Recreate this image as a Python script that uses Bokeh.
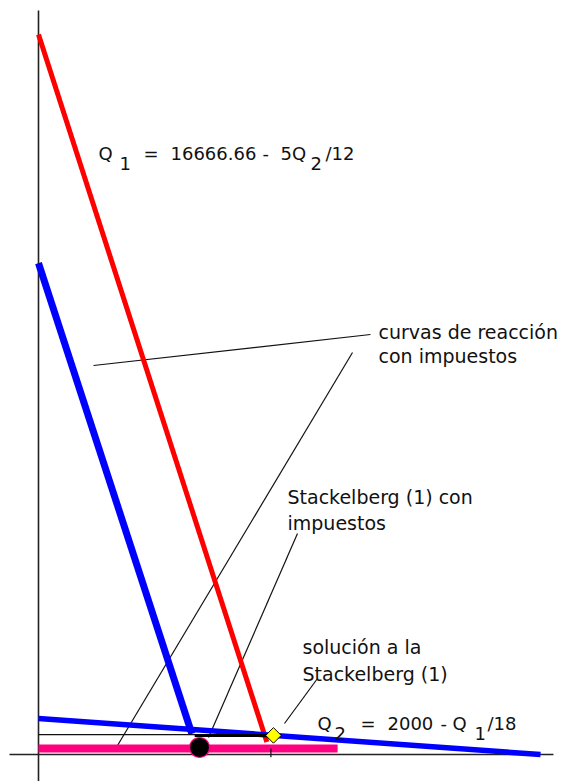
import math
from bokeh.plotting import figure
from bokeh.models import ColumnDataSource, Range1d
from bokeh.core.properties import value
from bokeh.embed import file_html
from bokeh.resources import INLINE

# Quantities: Q1 on the horizontal axis, Q2 on the vertical axis
# Reaction curve of firm 1: Q1 = 16666.66 - 5Q2/12
red_q1 = [0, 16375]
red_q2 = [40000, 700]

# Reaction curve of firm 1 with taxes
tax_q1 = [0, 11000]
tax_q2 = [27300, 1150]

# Reaction curve of firm 2: Q2 = 2000 - Q1/18
q2_q1 = [0, 36000]
q2_q2 = [2000, 0]

# Output level lines
level_q1 = [0, 16850]
level_q2 = [1100, 1100]
seg_q1 = [11200, 16850]
seg_q2 = [1060, 1060]
pink_q1 = [0, 21450]
pink_q2 = [333, 333]
tick_q1 = [16666.66, 16666.66]
tick_q2 = [333, -150]

# Equilibrium points
stack_tax = (11550, 390)      # Stackelberg (1) with taxes
stack = (16850, 1060)         # Stackelberg (1) solution

# Axis extents
xaxis_q1 = [-2080, 36930]
yaxis_q2 = [-1500, 41330]

# Leader lines from the notes to the curves
leaders = [
    ([3944, 23810], [21611, 23333]),
    ([22519, 5666], [22333, 500]),
    ([18574, 12192], [12278, 944]),
    ([20009, 17642], [4222, 1722]),
]

# Text notes: anchor in data units, then per-line screen offsets (px)
notes_x = [24383, 24383, 17857, 17857, 18933, 18933]
notes_y = [23500, 23500, 14278, 14278, 6000, 6000]
notes_text = ["curvas de reacción", "con impuestos",
              "Stackelberg (1) con", "impuestos",
              "solución a la", "Stackelberg (1)"]
notes_dy = [0, 24, 0, 26, 0, 27]

# Equation pieces (subscripts drawn at full size, shifted down)
eq1_anchor = (4303, 33389)
eq1_text = ["Q", "1", "=", "16666.66", "-", "5Q", "2", "/12"]
eq1_dx = [0, 21, 45, 72, 164, 182, 212, 227]
eq1_dy = [0, 10, 0, 0, 0, 0, 10, 0]

eq2_anchor = (20009, 1722)
eq2_text = ["Q", "2", "=", "2000", "-", "Q", "1", "/18"]
eq2_dx = [0, 17, 43, 70, 123, 135, 157, 170]
eq2_dy = [0, 10, 0, 0, 0, 0, 10, 0]

FONT = value("DejaVu Sans")
TXT = "#111111"

p = figure(width=567, height=781, output_backend="svg", toolbar_location=None,
           x_axis_location=None, y_axis_location=None, min_border=0,
           x_range=Range1d(-2725, 37937), y_range=Range1d(-1500, 41889),
           background_fill_color="white", border_fill_color="white",
           outline_line_color=None)
p.grid.visible = False

# axes
p.line([0, 0], yaxis_q2, line_color="#222222", line_width=1.6)
p.line(xaxis_q1, [0, 0], line_color="#222222", line_width=1.6)

# leader lines
for lx, ly in leaders:
    p.line(lx, ly, line_color="#111111", line_width=1.2)

# curves
p.line(pink_q1, pink_q2, line_color="#ff0080", line_width=8)
p.line(tick_q1, tick_q2, line_color="#111111", line_width=1.2)
p.line(red_q1, red_q2, line_color="#ff0000", line_width=5)
p.line(tax_q1, tax_q2, line_color="#0000ff", line_width=7)
p.line(q2_q1, q2_q2, line_color="#0000ff", line_width=5.5)
p.line(level_q1, level_q2, line_color="#111111", line_width=1.3)
p.line(seg_q1, seg_q2, line_color="#000000", line_width=3)

p.scatter([stack_tax[0]], [stack_tax[1]], marker="circle", size=20,
          fill_color="#000000", line_color="#ff0080", line_width=1.2)
p.scatter([stack[0]], [stack[1]], marker="square", size=11, angle=math.pi / 4,
          fill_color="#ffff00", line_color="#000000", line_width=1)

notes = ColumnDataSource(dict(x=notes_x, y=notes_y, text=notes_text, dy=notes_dy))
p.text(x="x", y="y", text="text", y_offset="dy", source=notes,
       text_font=FONT, text_font_size="19px", text_color=TXT,
       text_baseline="alphabetic", text_align="left")

for anchor, txt, dx, dy in ((eq1_anchor, eq1_text, eq1_dx, eq1_dy),
                            (eq2_anchor, eq2_text, eq2_dx, eq2_dy)):
    src = ColumnDataSource(dict(x=[anchor[0]] * len(txt), y=[anchor[1]] * len(txt),
                                text=txt, dx=dx, dy=dy))
    p.text(x="x", y="y", text="text", x_offset="dx", y_offset="dy", source=src,
           text_font=FONT, text_font_size="18px", text_color=TXT,
           text_baseline="alphabetic", text_align="left")

open("out.html", "w").write(file_html(p, INLINE))
